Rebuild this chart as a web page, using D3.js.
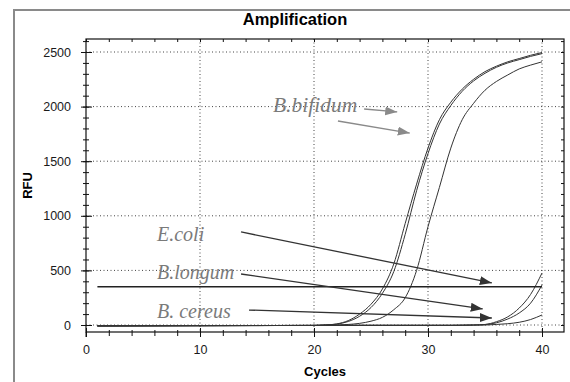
<!DOCTYPE html>
<html>
<head>
<meta charset="utf-8">
<script src="https://cdn.jsdelivr.net/npm/d3@7"></script>
<style>
body { margin: 0; background: #fff; }
svg { display: block; font-family: "Liberation Sans", Arial, sans-serif; }
.note { font-family: "Liberation Serif", "Times New Roman", serif; font-style: italic; fill: #7a7a7a; }
</style>
</head>
<body>
<div id="chart"></div>
<script>
// sampled cycles shared by every curve
const cycles = [1, 10, 20, 21, 22, 23, 24, 25, 26, 27, 28, 29, 30, 31, 32, 33, 34, 35, 36, 37, 38, 39, 40];

// B.bifidum curves (RFU)
const bifidumA = [-8, -6, -4, 0, 10, 40, 100, 190, 330, 560, 930, 1290, 1620, 1880, 2040, 2160, 2250, 2320, 2370, 2410, 2440, 2470, 2495];
const bifidumB = [-8, -6, -4, 0, 8, 32, 80, 160, 290, 490, 830, 1230, 1570, 1840, 2010, 2140, 2235, 2305, 2360, 2400, 2430, 2460, 2485];
const bifidumC = [-8, -6, -4, -2, 0, 5, 15, 35, 70, 140, 250, 500, 900, 1260, 1620, 1880, 2030, 2150, 2230, 2290, 2345, 2380, 2410];

// late curves near cycle 35-40
const lateA = [-8, -6, -4, -3, -3, -3, -3, -3, -3, -3, -3, -3, -3, -3, -3, -2, 0, 5, 30, 75, 155, 280, 476];
const lateB = [-8, -6, -4, -3, -3, -3, -3, -3, -3, -3, -3, -3, -3, -3, -3, -2, 0, 4, 20, 55, 110, 200, 366];
const lateC = [-8, -6, -4, -3, -3, -3, -3, -3, -3, -3, -3, -3, -3, -3, -3, -2, -1, 0, 5, 12, 25, 50, 92];

// threshold line
const thresholdValue = 350;
const thresholdCycles = [1, 40];

// ticks
const xMinorTicks = d3.range(0, 41, 2);
const xMajorTicks = [0, 10, 20, 30, 40];
const yMinorTicks = d3.range(0, 2601, 100);
const yMajorTicks = [0, 500, 1000, 1500, 2000, 2500];

// annotations, in cycles / RFU
const noteLabels = ["B.bifidum", "E.coli", "B.longum", "B. cereus"];
const noteAnchors = [[16.4, 1951], [6.23, 769], [6.23, 421], [6.23, 64]];
const arrowFrom = [[24.4, 1978], [22.1, 1868], [13.6, 852], [13.6, 467], [14.3, 137]];
const arrowTo = [[27.3, 1951], [28.4, 1758], [35.6, 385], [34.8, 147], [35.6, 64]];
const arrowTone = ["light", "light", "dark", "dark", "dark"];

let svg = d3.select("#chart").append("svg")
    .attr("width", 570)
    .attr("height", 382);

// plot box
let plot = {left: 86, right: 564, top: 39, bottom: 332};

let x = d3.scaleLinear().domain([0, 40]).range([86, 542]);
let y = d3.scaleLinear().domain([0, 2500]).range([325, 52]);

// outer frame (runs off the picture on the right and bottom)
svg.append("rect")
    .attr("x", 14).attr("y", 10)
    .attr("width", 620).attr("height", 420)
    .attr("fill", "none")
    .attr("stroke", "#8a8a8a")
    .attr("stroke-width", 2);

svg.append("text")
    .attr("x", 295).attr("y", 25)
    .attr("text-anchor", "middle")
    .attr("font-weight", "bold")
    .attr("font-size", 16.5)
    .text("Amplification");

// dotted grid
svg.append("g").selectAll("line")
    .data(xMajorTicks.slice(1))
    .enter().append("line")
    .attr("x1", d => x(d)).attr("x2", d => x(d))
    .attr("y1", plot.top).attr("y2", plot.bottom)
    .attr("stroke", "#444")
    .attr("stroke-dasharray", "1,2.5");

svg.append("g").selectAll("line")
    .data(yMajorTicks)
    .enter().append("line")
    .attr("x1", plot.left).attr("x2", plot.right)
    .attr("y1", d => y(d)).attr("y2", d => y(d))
    .attr("stroke", "#444")
    .attr("stroke-dasharray", "1,2.5");

// axes: ticks drawn on both sides of the frame lines
function addAxis(axis, tx, ty) {
    let g = svg.append("g")
        .attr("transform", "translate(" + tx + "," + ty + ")")
        .call(axis);
    g.select(".domain").remove();
    g.selectAll(".tick line").attr("stroke", "#111");
    g.selectAll(".tick text")
        .attr("fill", "#1a1a1a")
        .style("font-family", "'Liberation Sans', Arial, sans-serif")
        .style("font-size", "12.5px");
    return g;
}

addAxis(d3.axisBottom(x).tickValues(xMinorTicks).tickSize(4).tickFormat(""), 0, plot.bottom);
addAxis(d3.axisTop(x).tickValues(xMinorTicks).tickSize(2).tickFormat(""), 0, plot.bottom);
addAxis(d3.axisBottom(x).tickValues(xMajorTicks).tickSize(5).tickPadding(8).tickFormat(d3.format("d")), 0, plot.bottom);
addAxis(d3.axisTop(x).tickValues(xMajorTicks).tickSize(4).tickFormat(""), 0, plot.bottom);

addAxis(d3.axisBottom(x).tickValues(xMinorTicks).tickSize(3).tickFormat(""), 0, plot.top);

addAxis(d3.axisLeft(y).tickValues(yMinorTicks).tickSize(3).tickFormat(""), plot.left, 0);
addAxis(d3.axisRight(y).tickValues(yMinorTicks).tickSize(3).tickFormat(""), plot.left, 0);
addAxis(d3.axisLeft(y).tickValues(yMajorTicks).tickSize(5).tickPadding(10).tickFormat(d3.format("d")), plot.left, 0);
addAxis(d3.axisRight(y).tickValues(yMajorTicks).tickSize(6).tickFormat(""), plot.left, 0);

addAxis(d3.axisLeft(y).tickValues(yMinorTicks).tickSize(3).tickFormat(""), plot.right, 0);

// frame lines
svg.append("rect")
    .attr("x", plot.left).attr("y", plot.top)
    .attr("width", plot.right - plot.left)
    .attr("height", plot.bottom - plot.top)
    .attr("fill", "none")
    .attr("stroke", "#111")
    .attr("stroke-width", 1.2);

svg.append("line")
    .attr("x1", plot.left).attr("x2", plot.left)
    .attr("y1", plot.bottom).attr("y2", plot.bottom + 5)
    .attr("stroke", "#111");

// axis titles
svg.append("text")
    .attr("x", (plot.left + plot.right) / 2).attr("y", 376)
    .attr("text-anchor", "middle")
    .attr("font-weight", "bold")
    .attr("font-size", 13)
    .text("Cycles");

svg.append("text")
    .attr("transform", "translate(32," + (plot.top + plot.bottom) / 2 + ") rotate(-90)")
    .attr("text-anchor", "middle")
    .attr("font-weight", "bold")
    .attr("font-size", 13)
    .text("RFU");

// curves
let line = d3.line()
    .x(d => x(d[0]))
    .y(d => y(d[1]))
    .curve(d3.curveMonotoneX);

[bifidumA, bifidumB, bifidumC, lateA, lateB, lateC].forEach(function (values) {
    svg.append("path")
        .datum(cycles.map((c, i) => [c, values[i]]))
        .attr("fill", "none")
        .attr("stroke", "#333")
        .attr("stroke-width", 1)
        .attr("d", line);
});

svg.append("line")
    .attr("x1", x(thresholdCycles[0])).attr("x2", x(thresholdCycles[1]))
    .attr("y1", y(thresholdValue)).attr("y2", y(thresholdValue))
    .attr("stroke", "#222")
    .attr("stroke-width", 1.6);

// arrow heads
let defs = svg.append("defs");
[["light", "#8a8a8a"], ["dark", "#333"]].forEach(function (m) {
    defs.append("marker")
        .attr("id", "head-" + m[0])
        .attr("markerUnits", "userSpaceOnUse")
        .attr("markerWidth", 13).attr("markerHeight", 10)
        .attr("refX", 12).attr("refY", 4.5)
        .attr("orient", "auto")
        .append("path")
        .attr("d", "M0,0L12,4.5L0,9Z")
        .attr("fill", m[1]);
});

arrowFrom.forEach(function (p, i) {
    svg.append("line")
        .attr("x1", x(p[0])).attr("y1", y(p[1]))
        .attr("x2", x(arrowTo[i][0])).attr("y2", y(arrowTo[i][1]))
        .attr("stroke", arrowTone[i] == "light" ? "#8a8a8a" : "#333")
        .attr("stroke-width", 1.3)
        .attr("marker-end", "url(#head-" + arrowTone[i] + ")");
});

noteLabels.forEach(function (label, i) {
    svg.append("text")
        .attr("class", "note")
        .attr("x", x(noteAnchors[i][0]))
        .attr("y", y(noteAnchors[i][1]))
        .attr("font-size", i == 0 ? 21.5 : 20)
        .text(label);
});
</script>
</body>
</html>
